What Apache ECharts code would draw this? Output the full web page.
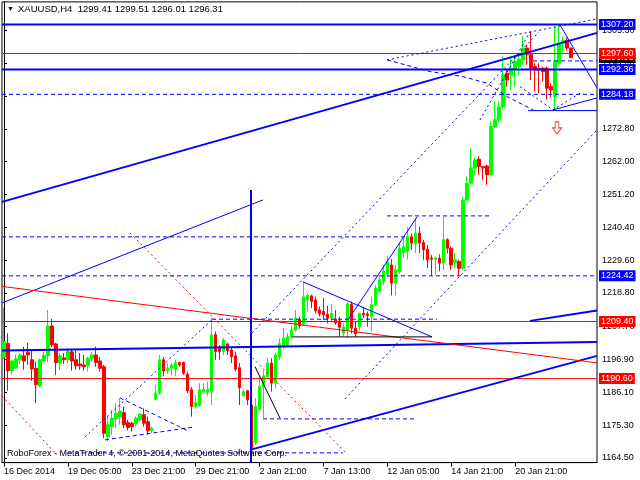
<!DOCTYPE html>
<html><head><meta charset="utf-8">
<script src="https://cdn.jsdelivr.net/npm/echarts@6/dist/echarts.min.js"></script>
<style>html,body{margin:0;padding:0;background:#fff}#c{width:640px;height:480px}</style>
</head><body><div id="c"></div>
<script>
// ---- candle data (H4 bars, left to right) ----
const opens = [1197.6,1202.2,1193.2,1194.1,1196.8,1198.1,1199.3,1196.8,1194.0,1188.2,1196.4,1198.2,1207.9,1202.0,1195.7,1197.4,1196.8,1199.4,1196.8,1195.4,1195.1,1194.8,1197.1,1198.4,1196.4,1194.5,1171.5,1174.8,1177.3,1178.0,1179.4,1176.1,1175.9,1175.7,1177.0,1178.7,1176.4,1173.5,1183.8,1185.8,1196.8,1193.2,1194.0,1193.7,1195.9,1195.9,1192.1,1186.9,1181.4,1181.7,1186.3,1186.0,1186.3,1205.0,1200.6,1199.5,1202.0,1200.0,1198.1,1194.2,1185.0,1186.6,1181.9,1169.5,1180.5,1187.8,1191.3,1195.7,1189.1,1197.8,1201.1,1201.7,1204.4,1206.6,1210.0,1208.5,1216.5,1217.8,1216.5,1213.2,1212.7,1211.8,1210.5,1210.2,1209.6,1205.6,1206.5,1215.0,1207.2,1207.7,1212.1,1211.9,1211.0,1214.9,1219.2,1222.5,1225.0,1228.0,1222.0,1225.8,1232.0,1232.4,1237.3,1234.9,1238.5,1235.4,1233.2,1230.3,1229.9,1230.2,1228.6,1236.3,1233.5,1228.8,1229.1,1226.9,1249.4,1254.9,1259.9,1262.8,1260.4,1260.6,1257.7,1273.4,1275.8,1280.0,1291.1,1290.6,1292.2,1293.3,1295.5,1299.4,1297.2,1293.3,1292.6,1292.8,1292.8,1286.7,1283.4,1294.4,1301.0,1302.0,1299.41];
const closes = [1202.8,1193.2,1196.4,1197.1,1198.4,1196.4,1198.4,1193.8,1188.6,1196.8,1198.3,1207.9,1201.7,1195.9,1198.1,1196.8,1199.5,1196.4,1194.8,1194.8,1194.5,1197.3,1198.4,1195.9,1194.0,1172.6,1175.4,1177.6,1179.2,1179.9,1175.4,1174.5,1174.8,1177.6,1178.9,1175.9,1173.4,1174.3,1185.8,1196.8,1193.1,1194.0,1195.1,1195.9,1195.1,1192.4,1186.6,1181.4,1182.7,1186.9,1187.1,1187.1,1205.0,1199.5,1199.5,1203.3,1199.8,1197.8,1193.7,1187.6,1186.3,1183.6,1167.7,1181.4,1188.0,1191.5,1195.7,1189.1,1198.4,1202.2,1203.9,1204.4,1206.6,1210.5,1208.0,1217.5,1218.0,1216.0,1212.9,1211.9,1211.6,1210.5,1212.1,1209.0,1207.5,1207.6,1215.2,1207.2,1205.3,1212.1,1211.6,1211.3,1214.9,1220.4,1223.1,1226.0,1229.0,1222.0,1226.5,1233.5,1234.0,1237.3,1235.2,1238.5,1235.2,1233.0,1229.7,1229.9,1230.3,1228.6,1236.3,1233.5,1228.0,1229.7,1226.9,1249.4,1254.9,1259.9,1262.6,1260.4,1260.0,1257.7,1273.6,1275.8,1280.0,1290.6,1288.9,1292.8,1295.0,1295.7,1299.4,1297.2,1292.8,1292.2,1292.2,1291.7,1286.2,1285.6,1294.9,1301.0,1302.0,1299.4,1296.31];
const lows = [1197.0,1186.6,1191.8,1193.8,1195.4,1193.5,1195.1,1189.9,1182.5,1187.8,1196.1,1196.0,1201.0,1191.8,1193.5,1195.4,1195.7,1193.2,1193.5,1193.5,1193.2,1192.9,1196.2,1194.5,1192.9,1171.0,1169.9,1172.1,1174.3,1175.4,1174.3,1173.5,1173.2,1174.8,1176.4,1174.8,1172.1,1172.6,1183.6,1185.2,1191.3,1192.1,1191.8,1191.5,1194.5,1191.8,1185.8,1178.1,1180.8,1181.4,1185.8,1184.9,1181.9,1196.8,1196.8,1198.4,1198.4,1195.7,1192.9,1181.9,1184.7,1181.9,1167.1,1168.8,1180.0,1177.7,1190.7,1186.3,1187.4,1196.8,1200.3,1201.0,1203.5,1206.0,1207.0,1208.0,1212.7,1213.8,1212.1,1211.0,1209.9,1208.8,1209.0,1208.3,1204.4,1204.5,1204.0,1205.5,1204.4,1206.4,1210.5,1207.7,1206.1,1214.5,1219.1,1221.5,1224.0,1218.0,1218.0,1225.0,1230.2,1229.7,1233.0,1231.9,1231.9,1229.7,1227.0,1224.4,1224.7,1226.0,1226.4,1231.9,1226.4,1226.9,1224.5,1226.4,1248.9,1254.4,1257.7,1257.7,1256.0,1254.4,1257.1,1273.0,1275.0,1279.0,1286.7,1285.6,1286.7,1290.6,1293.9,1293.9,1288.9,1285.1,1284.5,1288.4,1282.35,1283.2,1279.0,1293.9,1298.3,1298.5,1296.01];
const highs = [1214.0,1205.5,1196.8,1198.4,1199.0,1201.1,1202.4,1200.05,1196.2,1197.2,1199.4,1213.2,1210.2,1202.4,1199.0,1199.0,1200.6,1200.05,1199.8,1199.0,1198.4,1197.8,1199.3,1201.1,1197.8,1195.1,1178.1,1180.3,1182.5,1184.2,1181.4,1177.0,1176.4,1178.1,1179.2,1180.8,1178.1,1174.8,1188.5,1198.4,1197.8,1195.7,1195.7,1196.8,1196.2,1196.2,1192.9,1187.8,1185.2,1189.1,1189.1,1189.6,1210.5,1206.1,1201.7,1203.9,1202.4,1200.9,1199.5,1195.7,1186.9,1186.9,1183.6,1184.2,1191.8,1193.5,1197.3,1197.3,1199.0,1203.9,1207.2,1205.6,1208.0,1213.2,1211.0,1222.5,1218.7,1218.2,1217.6,1214.3,1217.1,1214.5,1215.0,1213.2,1211.0,1208.8,1215.8,1216.0,1209.4,1212.3,1214.3,1212.7,1217.6,1221.4,1224.7,1228.0,1231.0,1230.0,1228.0,1235.5,1236.8,1240.6,1238.4,1243.4,1240.6,1236.3,1234.6,1231.3,1230.8,1231.5,1243.9,1236.8,1234.1,1231.9,1229.7,1250.5,1257.1,1266.4,1263.2,1263.7,1260.6,1261.0,1275.2,1281.8,1281.8,1296.6,1292.2,1296.6,1297.2,1297.7,1303.2,1300.5,1304.8,1294.4,1294.4,1293.3,1293.3,1287.8,1306.5,1307.2,1303.2,1303.0,1299.51];

// ---- axes ----
const slotCount = 149;               // bars + empty right shift
const xTickIndex = [0,16,32,48,64,80,96,112,128];
const xTickText = ['16 Dec 2014','19 Dec 05:00','23 Dec 21:00','29 Dec 21:00','2 Jan 21:00','7 Jan 13:00','12 Jan 05:00','14 Jan 21:00','20 Jan 21:00'];
const yTicks = [1164.50,1175.30,1186.10,1196.90,1207.70,1218.80,1229.60,1240.40,1251.20,1262.00,1272.80,1283.60,1294.40,1305.30];
const yMin = 1162.95, yMax = 1314.6;

// ---- horizontal price levels (with right-axis price tags) ----
const levelValues = [1296.31,1307.20,1297.60,1292.36,1284.18,1224.42,1209.40,1190.60];
const levelColors = ['#000000','#0000ff','#ff0000','#0000ff','#0000ff','#0000ff','#ff0000','#ff0000'];
const levelWidths = [0,2,1,2,1,1,1,1];
const levelTypes  = ['solid','solid','solid','solid','dashed','dashed','solid','solid'];

// ---- drawn objects, in (bar index, price) ----
const thickBlueLines = [
  [[-0.5,1248.77],[148.5,1304.40]],
  [[-0.5,1199.89],[148.5,1202.68]],
  [[131.73,1209.60],[148.5,1213.05]],
  [[61.61,1167.13],[148.5,1198.08]],
  [[61.86,1252.72],[61.86,1162.95]]
];
const thinBlueLines = [
  [[-0.5,1215.52],[64.86,1249.43]],
  [[74.88,1222.43],[107.19,1204.33]],
  [[86.15,1209.93],[103.43,1243.83]],
  [[131.23,1278.82],[148.5,1278.82]],
  [[137.49,1279.05],[148.5,1283.0]],
  [[139.24,1307.03],[148.5,1286.29]]
];
const thinRedLines = [
  [[-0.5,1220.95],[148.5,1195.77]]
];
const blackLines = [
  [[62.86,1194.55],[69.12,1177.57]],
  [[72.13,1204.33],[107.19,1204.33]]
];
const dashedBlueLines = [
  [[-0.5,1237.25],[100.93,1237.25]],
  [[95.92,1244.16],[122.21,1244.16]],
  [[52.09,1210.16],[108.44,1210.16]],
  [[64.86,1177.34],[102.93,1177.34]],
  [[16.03,1166.15],[84.90,1166.15]],
  [[132.48,1295.18],[148.5,1295.18]],
  [[25.29,1170.43],[47.83,1174.71]],
  [[29.05,1184.25],[46.08,1173.39]],
  [[95.92,1295.51],[106.69,1291.66],[114.95,1290.01],[120.96,1287.84],[125.97,1283.43],[132.48,1279.05]]
];
const dottedBlueLines = [
  [[20.29,1171.41],[52.34,1210.25]],
  [[62.11,1205.65],[133.98,1304.73]],
  [[85.40,1183.92],[148.5,1272.47]],
  [[119.21,1275.76],[131.73,1304.73]],
  [[95.92,1295.51],[148.5,1309.0]],
  [[129.23,1286.72],[137.49,1279.05],[144.25,1284.55]]
];
const dottedRedLines = [
  [[-0.5,1184.91],[13.27,1165.49]],
  [[31.55,1238.56],[85.40,1166.48]]
];
const arrowMarks = [[138.49,1273.13]];

const FONT = '"Liberation Sans", Arial, sans-serif';

const categories = [];
for (let i = 0; i < slotCount; i++) {
  const k = xTickIndex.indexOf(i);
  categories.push(k >= 0 ? xTickText[k] : '');
}
const candleData = opens.map((o, i) => [o, closes[i], lows[i], highs[i]]);
const isTick = (i) => xTickIndex.indexOf(i) >= 0;

const series = [{
  type: 'candlestick',
  xAxisIndex: 0, yAxisIndex: 0,
  data: candleData,
  barWidth: 3,
  itemStyle: { color: '#00ff00', color0: '#ff0000', borderColor: '#00ff00', borderColor0: '#ff0000', borderWidth: 1 },
  silent: true, animation: false,
  markLine: {
    silent: true, animation: false, symbol: ['none','none'],
    lineStyle: { color: 'rgba(0,0,0,0)', width: 1 },
    data: levelValues.map((v, i) => ({
      yAxis: v,
      lineStyle: { color: 'rgba(0,0,0,0)', width: 1 },
      label: { show: true, position: 'end', distance: 2, formatter: v.toFixed(2), color: '#ffffff', backgroundColor: levelColors[i], padding: [1,2,1,2], fontSize: 9, lineHeight: 9, fontFamily: FONT }
    }))
  }
}];

// level lines drawn as ordinary line series across the whole plot
levelValues.forEach((v, i) => {
  if (!levelWidths[i]) return;
  series.push({
    type: 'line', xAxisIndex: 1, yAxisIndex: 0, data: [[-0.5, v], [slotCount - 0.5, v]], symbol: 'none',
    lineStyle: { color: levelColors[i], width: levelWidths[i], type: levelTypes[i] === 'dashed' ? [4,3] : 'solid' },
    silent: true, animation: false, z: 3
  });
});

function addLines(list, color, width, type) {
  list.forEach(pts => series.push({
    type: 'line', xAxisIndex: 1, yAxisIndex: 0, data: pts, symbol: 'none',
    lineStyle: { color: color, width: width, type: type }, silent: true, animation: false, z: 3
  }));
}
addLines(thickBlueLines, '#0000ff', 2, 'solid');
addLines(thinBlueLines, '#0000ff', 1, 'solid');
addLines(thinRedLines, '#ff0000', 1, 'solid');
addLines(blackLines, '#000000', 1, 'solid');
addLines(dashedBlueLines, '#0000ff', 1, [4,3]);
addLines(dottedBlueLines, '#0000ff', 1, [2,3]);
addLines(dottedRedLines, '#ff0000', 1, [2,3]);
series.push({
  type: 'scatter', xAxisIndex: 1, yAxisIndex: 0, data: arrowMarks,
  symbol: 'path://M3,0 L7,0 L7,6 L10,6 L5,12 L0,6 L3,6 Z', symbolSize: [9,12],
  itemStyle: { color: '#ffffff', borderColor: '#ff0000', borderWidth: 1 }, silent: true, animation: false, z: 4
});

const last = opens.length - 1;
const headerText = 'XAUUSD,H4  ' + [opens[last], highs[last], lows[last], closes[last]].map(v => v.toFixed(2)).join(' ');

const chart = echarts.init(document.getElementById('c'), null, { renderer: 'canvas' });
chart.setOption({
  animation: false,
  backgroundColor: '#ffffff',
  grid: { left: 2, right: 43, top: 1.9, bottom: 17.4, show: true, borderColor: '#000', borderWidth: 1, backgroundColor: '#fff' },
  xAxis: [{
    type: 'category', data: categories, boundaryGap: true, gridIndex: 0,
    axisLine: { show: true, lineStyle: { color: '#000', width: 1 } },
    axisTick: { show: true, interval: isTick, alignWithLabel: true, length: 4, lineStyle: { color: '#000' } },
    axisLabel: { show: true, interval: isTick, align: 'left', margin: 4, color: '#000', fontSize: 9, fontFamily: FONT, hideOverlap: false },
    splitLine: { show: false }
  }, {
    type: 'value', min: -0.5, max: slotCount - 0.5, gridIndex: 0, show: false
  }],
  yAxis: [{
    type: 'value', position: 'right', min: yMin, max: yMax, scale: true,
    axisLine: { show: true, lineStyle: { color: '#000', width: 1 } },
    axisTick: { show: true, length: 3, customValues: yTicks, lineStyle: { color: '#000' } },
    axisLabel: { show: true, customValues: yTicks, formatter: v => v.toFixed(2), margin: 5, color: '#000', fontSize: 9, fontFamily: FONT, showMinLabel: true, showMaxLabel: true },
    splitLine: { show: false }
  }],
  graphic: [
    { type: 'text', left: 7, top: 6, style: { text: '▼', font: '7px ' + FONT, fill: '#000' }, z: 10 },
    { type: 'text', left: 18, top: 4, style: { text: headerText, font: '9.5px ' + FONT, fill: '#000' }, z: 10 },
    { type: 'text', left: 7, top: 449, style: { text: 'RoboForex - MetaTrader 4, © 2001-2014, MetaQuotes Software Corp.', font: '9px ' + FONT, fill: '#000' }, z: 10 }
  ],
  series: series
});
</script></body></html>
